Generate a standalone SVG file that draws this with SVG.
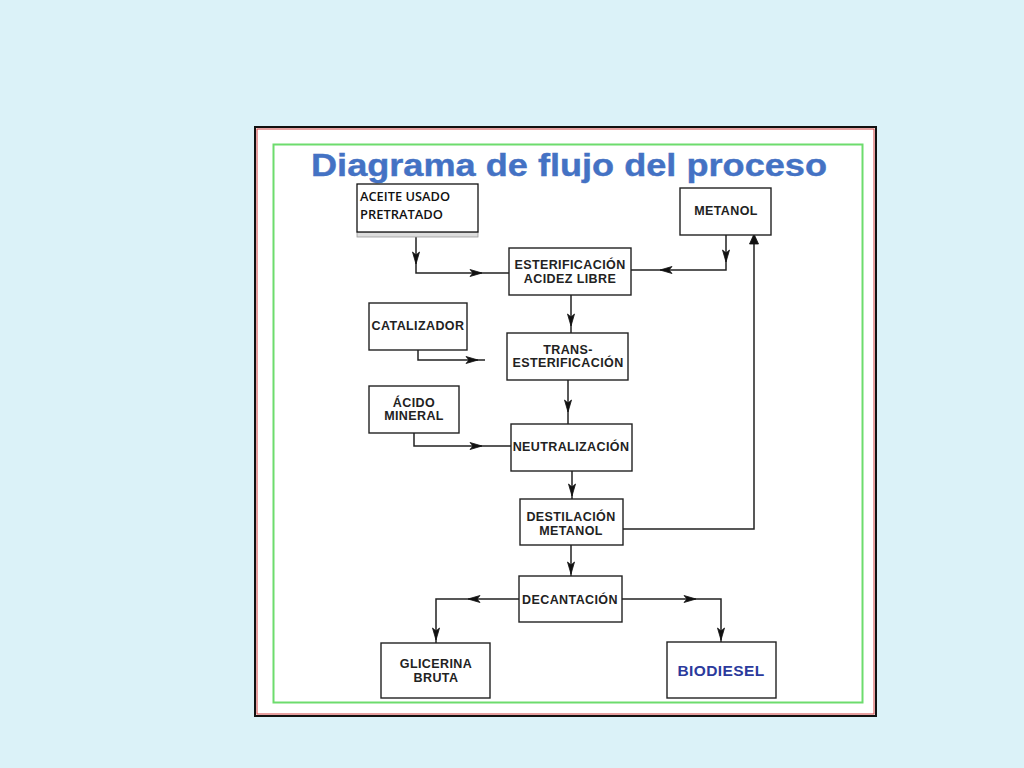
<svg xmlns="http://www.w3.org/2000/svg" xmlns:xlink="http://www.w3.org/1999/xlink" width="1024" height="768" viewBox="0 0 1024 768">
<style>
.box{fill:#fff;stroke:#222;stroke-width:1.4}
.lbl{font-family:"Liberation Sans",Arial,sans-serif;font-weight:bold;font-size:12.5px;letter-spacing:0.4px;fill:#222;text-anchor:middle}
.ln{fill:none;stroke:#222;stroke-width:1.5}
.ah{fill:#111;stroke:#111;stroke-width:0.8}
.ac{font-family:"Open Sans","Liberation Sans",Arial,sans-serif;font-weight:600;font-size:12px;fill:#111}
</style>
<defs>
<path id="ar" d="M0,0 L-12,-3.5 L-9,0 L-12,3.5 Z"/>
</defs>
<rect width="1024" height="768" fill="#dbf2f8"/>
<g id="frame">
<rect x="255" y="127" width="621" height="589" fill="#fff" stroke="#111" stroke-width="2"/>
<rect x="257" y="129" width="617" height="585" fill="none" stroke="#d04040" stroke-width="1"/>
<rect x="273.5" y="144.5" width="589" height="558" fill="none" stroke="#6ddc6d" stroke-width="2"/>
</g>
<text id="title" x="311" y="176" font-family="'Liberation Sans',Arial,sans-serif" font-weight="bold" font-size="31" fill="#4472c4" stroke="#4472c4" stroke-width="0.4" textLength="516" lengthAdjust="spacingAndGlyphs">Diagrama de flujo del proceso</text>
<g id="connectors">
<path class="ln" d="M416,237 V273 H509"/>
<use xlink:href="#ar" class="ah" transform="translate(416,264) rotate(90)"/>
<use xlink:href="#ar" class="ah" transform="translate(482,273)"/>
<path class="ln" d="M726,235 V270 H631"/>
<use xlink:href="#ar" class="ah" transform="translate(726,262) rotate(90)"/>
<use xlink:href="#ar" class="ah" transform="translate(660,270) rotate(180)"/>
<path class="ln" d="M571,295 V333"/>
<use xlink:href="#ar" class="ah" transform="translate(571,326) rotate(90)"/>
<path class="ln" d="M418,350 V360 H485"/>
<use xlink:href="#ar" class="ah" transform="translate(478,360)"/>
<path class="ln" d="M568,380 V424"/>
<use xlink:href="#ar" class="ah" transform="translate(568,412) rotate(90)"/>
<path class="ln" d="M414,433 V446 H511"/>
<use xlink:href="#ar" class="ah" transform="translate(482,446)"/>
<path class="ln" d="M572,471 V499"/>
<use xlink:href="#ar" class="ah" transform="translate(572,496) rotate(90)"/>
<path class="ln" d="M623,529 H754 V238" stroke-width="1.8"/>
<path class="ah" d="M754,234 L749.5,244 L758.5,244 Z"/>
<path class="ln" d="M571,545 V576"/>
<use xlink:href="#ar" class="ah" transform="translate(571,574) rotate(90)"/>
<path class="ln" d="M519,599 H436 V643"/>
<use xlink:href="#ar" class="ah" transform="translate(468,599) rotate(180)"/>
<use xlink:href="#ar" class="ah" transform="translate(436,640) rotate(90)"/>
<path class="ln" d="M622,599 H721 V642"/>
<use xlink:href="#ar" class="ah" transform="translate(696,599)"/>
<use xlink:href="#ar" class="ah" transform="translate(721,640) rotate(90)"/>
</g>
<g id="aceite">
<rect x="357" y="232" width="121" height="5" fill="#ddd" stroke="#999" stroke-width="0.8"/>
<rect x="357" y="184" width="121" height="48" fill="#fff" stroke="#111" stroke-width="1.3"/>
<text class="ac" x="360" y="201" textLength="90" lengthAdjust="spacingAndGlyphs">ACEITE USADO</text>
<text class="ac" x="360" y="219" textLength="83" lengthAdjust="spacingAndGlyphs">PRETRATADO</text>
</g>
<g id="metanol">
<rect class="box" x="680" y="188" width="91" height="47"/>
<text class="lbl" x="726" y="215">METANOL</text>
</g>
<g id="esterificacion">
<rect class="box" x="509" y="248" width="122" height="47"/>
<text class="lbl" x="570" y="269">ESTERIFICACIÓN</text>
<text class="lbl" x="570" y="283">ACIDEZ LIBRE</text>
</g>
<g id="catalizador">
<rect class="box" x="369" y="303" width="98" height="47"/>
<text class="lbl" x="418" y="330">CATALIZADOR</text>
</g>
<g id="transesterificacion">
<rect class="box" x="507" y="333" width="121" height="47"/>
<text class="lbl" x="568" y="354">TRANS-</text>
<text class="lbl" x="568" y="367">ESTERIFICACIÓN</text>
</g>
<g id="acido">
<rect class="box" x="369" y="386" width="90" height="47"/>
<text class="lbl" x="414" y="407">ÁCIDO</text>
<text class="lbl" x="414" y="420">MINERAL</text>
</g>
<g id="neutralizacion">
<rect class="box" x="511" y="424" width="121" height="47"/>
<text class="lbl" x="571" y="451">NEUTRALIZACIÓN</text>
</g>
<g id="destilacion">
<rect class="box" x="520" y="499" width="103" height="46"/>
<text class="lbl" x="571" y="521">DESTILACIÓN</text>
<text class="lbl" x="571" y="535">METANOL</text>
</g>
<g id="decantacion">
<rect class="box" x="519" y="576" width="103" height="46"/>
<text class="lbl" x="570" y="604">DECANTACIÓN</text>
</g>
<g id="glicerina">
<rect class="box" x="381" y="643" width="109" height="55"/>
<text class="lbl" x="436" y="668">GLICERINA</text>
<text class="lbl" x="436" y="682">BRUTA</text>
</g>
<g id="biodiesel">
<rect class="box" x="667" y="642" width="109" height="56"/>
<text class="lbl" x="721" y="676" style="fill:#2b3a9c;font-size:15.5px">BIODIESEL</text>
</g>
</svg>
